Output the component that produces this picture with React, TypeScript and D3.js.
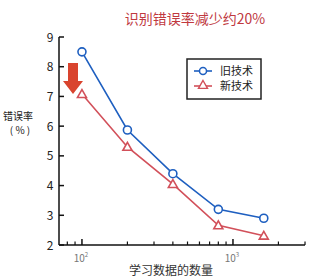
import React from "react";
import * as d3 from "d3";

const dataSizes = [100, 200, 400, 800, 1600];
const oldTech = [8.5, 5.87, 4.4, 3.2, 2.9];
const newTech = [7.08, 5.3, 4.05, 2.66, 2.31];
const yTicks = [2, 3, 4, 5, 6, 7, 8, 9];
const majorX = [100, 1000];
const minorX = [80, 90, 200, 300, 400, 500, 600, 700, 800, 900, 2000, 3000];
const seriesNames = ["旧技术", "新技术"];
const title = "识别错误率减少约20%";
const yLabel = ["错误率", "( % )"];
const xLabel = "学习数据的数量";

const W = 315, H = 278;
const font = "'Noto Sans CJK SC', 'Noto Sans', sans-serif";
const blue = "#1e5fc0";
const red = "#d2505a";

export default function App() {
  const x = d3.scaleLog().domain([Math.pow(10, 1.848), Math.pow(10, 3.477)]).range([59, 305]);
  const y = d3.scaleLinear().domain([2, 9]).range([245, 37]);
  const line = d3.line<number>().x((_, i) => x(dataSizes[i])).y((d) => y(d));
  const tri = (cx: number, cy: number) => {
    const s = 4.5;
    return `M${cx},${cy - s} L${cx + s},${cy + s * 0.75} L${cx - s},${cy + s * 0.75} Z`;
  };
  return (
    <svg width={W} height={H} style={{ position: "absolute", left: 0, top: 0, background: "#fff" }}>
      <text x={195} y={24} textAnchor="middle" fontSize={14} fill="#c0393f" fontFamily={font}>{title}</text>
      {/* axes */}
      <line x1={59} x2={59} y1={y(9)} y2={y(2)} stroke="#111" strokeWidth={1.5} />
      <line x1={59} x2={305} y1={y(2)} y2={y(2)} stroke="#111" strokeWidth={1.5} />
      {yTicks.map((t) => (
        <g key={t}>
          <line x1={59} x2={64} y1={y(t)} y2={y(t)} stroke="#111" strokeWidth={1.5} />
          <text x={50} y={y(t) + 4.5} textAnchor="middle" fontSize={12} fill="#222" fontFamily={font}>{t}</text>
        </g>
      ))}
      {majorX.map((t, i) => (
        <g key={t}>
          <line x1={x(t)} x2={x(t)} y1={y(2)} y2={y(2) - 6} stroke="#111" strokeWidth={1.5} />
          <text x={x(t) - 1} y={262} textAnchor="middle" fontSize={10} fill="#777" fontFamily={font}>
            10<tspan fontSize={6} dy={-5}>{i + 2}</tspan>
          </text>
        </g>
      ))}
      {minorX.map((t) => (
        <line key={t} x1={x(t)} x2={x(t)} y1={y(2)} y2={y(2) - 3.5} stroke="#111" strokeWidth={1.2} />
      ))}
      {/* lines */}
      <path d={line(oldTech) || ""} fill="none" stroke={blue} strokeWidth={1.6} />
      <path d={line(newTech) || ""} fill="none" stroke={red} strokeWidth={1.6} />
      {oldTech.map((v, i) => (
        <circle key={i} cx={x(dataSizes[i])} cy={y(v)} r={4} fill="#fff" stroke={blue} strokeWidth={1.6} />
      ))}
      {newTech.map((v, i) => (
        <path key={i} d={tri(x(dataSizes[i]), y(v))} fill="#fff" stroke={red} strokeWidth={1.6} />
      ))}
      {/* arrow */}
      <path d="M68,63 L78,63 L78,81 L83,81 L73,94 L63,81 L68,81 Z" fill="#d9442e" />
      {/* legend */}
      <rect x={187} y={59} width={74} height={40} fill="#fff" stroke="#222" strokeWidth={1.5} />
      <line x1={194} x2={212} y1={71} y2={71} stroke={blue} strokeWidth={1.6} />
      <circle cx={203} cy={71} r={3.5} fill="#fff" stroke={blue} strokeWidth={1.5} />
      <text x={220} y={75} fontSize={11} fill="#222" fontFamily={font}>{seriesNames[0]}</text>
      <line x1={194} x2={212} y1={86} y2={86} stroke={red} strokeWidth={1.6} />
      <path d={tri(203, 85)} fill="#fff" stroke={red} strokeWidth={1.4} />
      <text x={220} y={90} fontSize={11} fill="#222" fontFamily={font}>{seriesNames[1]}</text>
      {/* axis labels */}
      <text x={18} y={120} textAnchor="middle" fontSize={10} fill="#222" fontFamily={font}>{yLabel[0]}</text>
      <text x={20} y={134} textAnchor="middle" fontSize={10} fill="#222" fontFamily={font}>{yLabel[1]}</text>
      <text x={171} y={275} textAnchor="middle" fontSize={12} fill="#333" fontFamily={font}>{xLabel}</text>
    </svg>
  );
}
